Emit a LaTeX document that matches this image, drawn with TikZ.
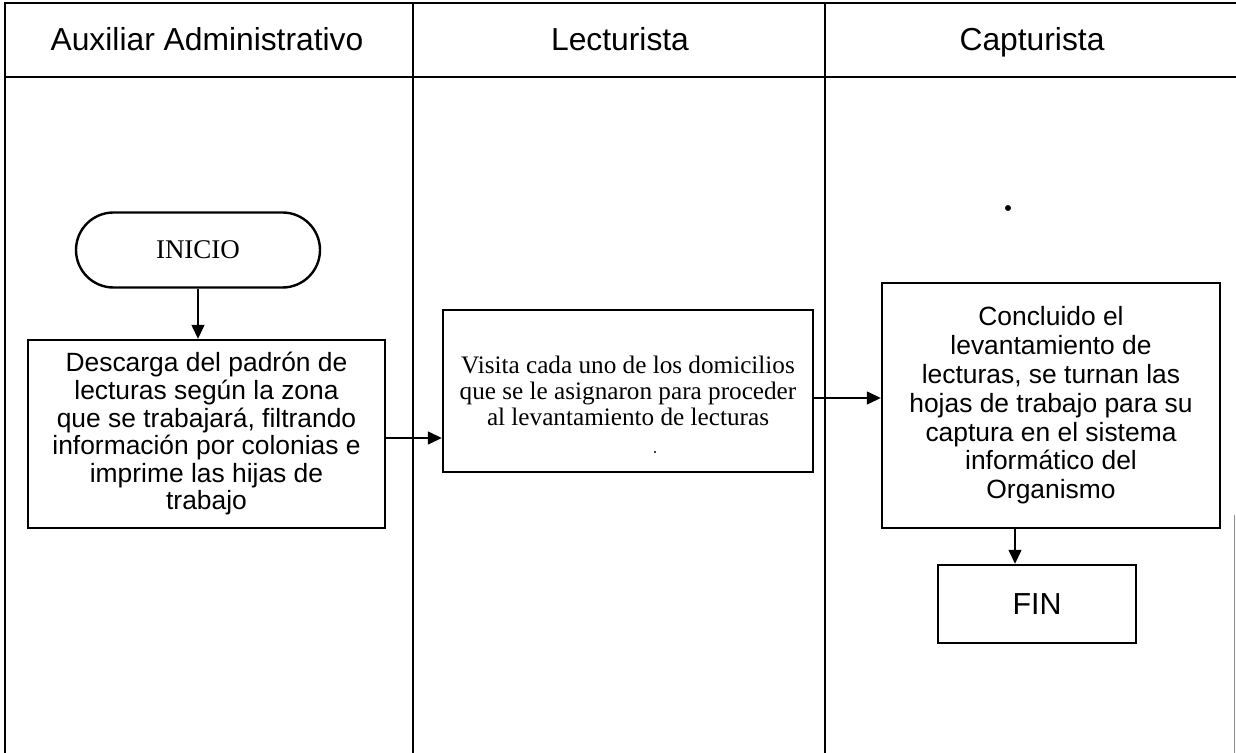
\documentclass[tikz,border=0pt]{standalone}
\usepackage{fontspec}
\setmainfont{Liberation Sans}
\newfontfamily\serifface{Liberation Serif}
\usetikzlibrary{arrows.meta,positioning,shapes.misc}
\tikzset{
  lane/.style={line width=1.3pt},
  lanehead/.style={font=\fontsize{15.9}{18}\selectfont, anchor=base},
  proc/.style={draw, line width=1.2pt, align=center, inner sep=0pt, font=\fontsize{13.2}{14.4}\selectfont},
  procserif/.style={proc, font=\serifface\fontsize{12.6}{13}\selectfont},
  term/.style={draw, rounded rectangle, line width=1.2pt, inner sep=0pt, font=\serifface\fontsize{13.5}{15}\selectfont},
  arr/.style={-{Triangle[length=7pt,width=6.5pt]}, line width=0.7pt}
}

\begin{document}
\begin{tikzpicture}[x=0.5pt,y=-0.5pt]
\useasboundingbox (0,0) rectangle (1236,753);

% swimlanes
\draw[lane] (5,753) -- (5,3) -- (1236,3);
\draw[lane] (5,77) -- (1236,77);
\foreach \x in {413,825}
  \draw[lane] (\x,3) -- (\x,753);
\draw[black!45, line width=0.4pt] (1234,515) -- (1234,753);

\node[lanehead] (hAux) at (207,51) {Auxiliar Administrativo};
\node[lanehead] (hLec) at (620,51) {Lecturista};
\node[lanehead] (hCap) at (1032,51) {Capturista};

% flow
\node[term, minimum width=122pt, minimum height=37.5pt] (ini) at (198,250) {INICIO};
\node[proc, minimum width=178.5pt, minimum height=94pt, font=\fontsize{13.2}{13.8}\selectfont] (b1) at (206.5,434)
  {Descarga del padrón de\\ lecturas según la zona\\ que se trabajará, filtrando\\ información por colonias e\\ imprime las hijas de\\ trabajo};
\node[procserif, minimum width=185pt, minimum height=81pt] (b2) at (628,391)
  {Visita cada uno de los domicilios\\ que se le asignaron para proceder\\ al levantamiento de lecturas};
\node[proc, minimum width=169pt, minimum height=122.5pt] (b3) at (1051,405.5)
  {Concluido el\\ levantamiento de\\ lecturas, se turnan las\\ hojas de trabajo para su\\ captura en el sistema\\ informático del\\ Organismo};
\node[proc, minimum width=99pt, minimum height=39pt, font=\fontsize{15.2}{17}\selectfont] (fin) at (1037,604) {FIN};

\draw[arr] (ini.south) -- (ini.south |- b1.north);
\draw[arr] ([yshift=-2pt]b1.east) -- ([yshift=-2pt]b1.east -| b2.west);
\draw[arr] ([yshift=-3.5pt]b2.east) -- ([yshift=-3.5pt]b2.east -| b3.west);
\draw[arr] ([xshift=-11pt]fin.north |- b3.south) -- ([xshift=-11pt]fin.north);

% marks
\fill (1008,208) circle[radius=1.5pt];
\fill (655,452) circle[radius=0.6pt];

\end{tikzpicture}
\end{document}
